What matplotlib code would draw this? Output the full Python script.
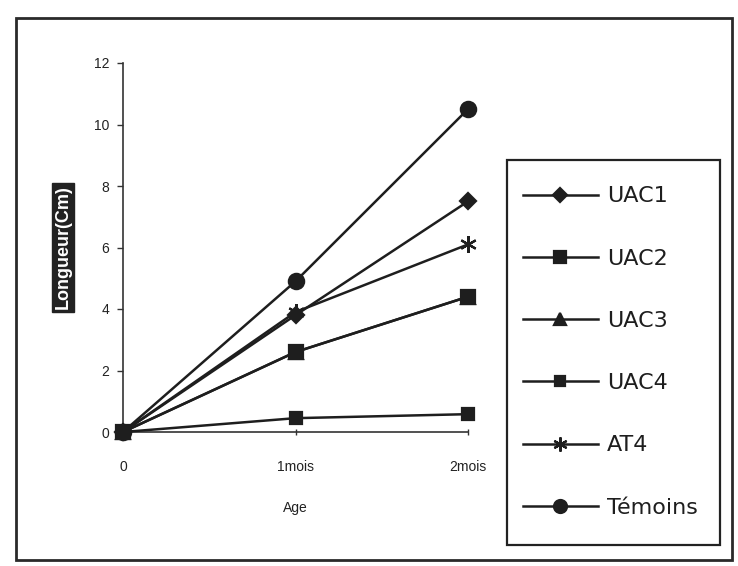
import matplotlib
matplotlib.use("Agg")
import matplotlib.pyplot as plt
from matplotlib.patches import Rectangle

plt.rcParams['font.family'] = ['Liberation Sans', 'DejaVu Sans']

# Growth in length (cm) by age
ages = ["0", "1mois", "2mois"]
uac1 = [0, 3.8, 7.5]
uac2 = [0, 2.6, 4.4]
uac3 = [0, 2.6, 4.4]
uac4 = [0, 0.45, 0.58]
at4 = [0, 3.9, 6.1]
temoins = [0, 4.9, 10.5]

series = [
    ("UAC1", uac1, "D", 8),
    ("UAC2", uac2, "s", 10),
    ("UAC3", uac3, "^", 10),
    ("UAC4", uac4, "s", 9),
    ("AT4", at4, (6, 2, 0), 12),
    ("Témoins", temoins, "o", 11),
]

ink = "#1e1e1e"
W, H = 738, 566
fig = plt.figure(figsize=(W / 100, H / 100), dpi=100)
fig.patch.set_facecolor("white")

# outer chart frame
fig.patches.append(Rectangle((16 / W, 1 - 560 / H), (732 - 16) / W, (560 - 18) / H,
                             transform=fig.transFigure, fill=False,
                             edgecolor="#2a2a2a", linewidth=2))
# legend frame
fig.patches.append(Rectangle((507 / W, 1 - 545 / H), (720 - 507) / W, (545 - 160) / H,
                             transform=fig.transFigure, fill=False,
                             edgecolor="#222222", linewidth=1.6, zorder=5))

ax = fig.add_axes([123 / W, 1 - 432 / H, (468 - 123) / W, (432 - 63) / H])
x = list(range(len(ages)))
for name, vals, mk, ms in series:
    ax.plot(x, vals, color=ink, linewidth=1.8, marker=mk, markersize=ms,
            markeredgecolor=ink, markerfacecolor=ink, markeredgewidth=1.6,
            label=name, clip_on=False, zorder=3)

ax.set_xlim(0, 2)
ax.set_ylim(0, 12)
ax.set_yticks(range(0, 13, 2))
ax.set_xticks(x)
ax.set_xticklabels(ages)
for s in ("top", "right"):
    ax.spines[s].set_visible(False)
for s in ("left", "bottom"):
    ax.spines[s].set_color("#333333")
    ax.spines[s].set_linewidth(1.2)
ax.tick_params(axis="y", direction="out", length=4, width=1, labelsize=10,
               pad=6, colors="#333333")
ax.tick_params(axis="x", direction="inout", length=5, width=1, labelsize=10,
               pad=18, colors="#333333")
for lab in ax.get_xticklabels() + ax.get_yticklabels():
    lab.set_color("#222222")

ax.set_xlabel("Age", fontsize=10, labelpad=19, color="#222222")
ax.set_ylabel("Longueur(Cm)", fontsize=13, color="white", labelpad=16,
              fontweight="bold",
              bbox=dict(boxstyle="square,pad=0.12", facecolor="#222222",
                        edgecolor="#222222"))

leg = ax.legend(loc="center left", bbox_to_anchor=(516 / W, 1 - 352 / H),
                bbox_transform=fig.transFigure, frameon=False,
                prop={"family": "DejaVu Sans", "size": 16},
                handlelength=3.4, handletextpad=0.4, labelspacing=1.9,
                borderpad=0.3, borderaxespad=0, markerscale=0.85)
for t in leg.get_texts():
    t.set_color("#1e1e1e")

fig.savefig("out.png", dpi=100, facecolor="white")
